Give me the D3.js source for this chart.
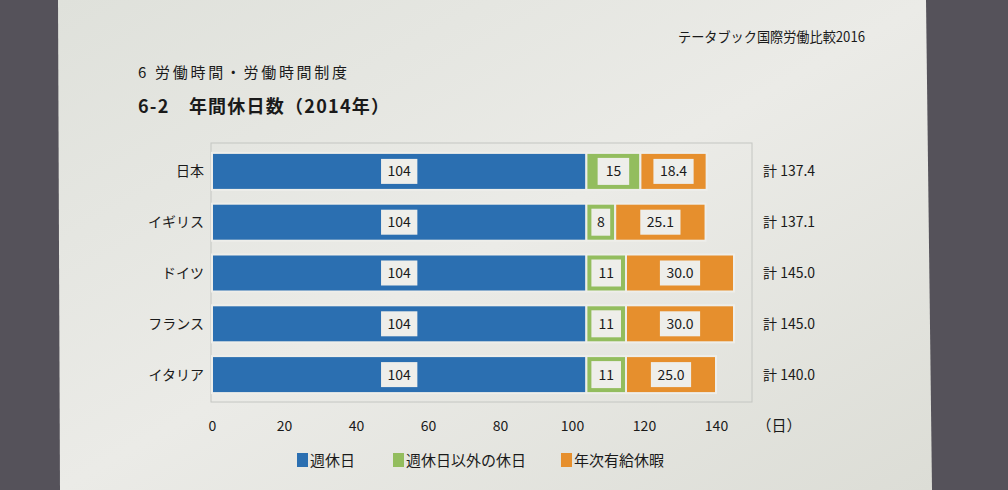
<!DOCTYPE html>
<html><head><meta charset="utf-8">
<script src="https://cdn.jsdelivr.net/npm/d3@7"></script>
<style>
html,body{margin:0;padding:0;background:#55525a;}
svg{display:block;}
text{font-family:"Noto Sans CJK JP","Noto Sans",sans-serif;fill:#1a1a1a;}
</style></head>
<body>
<svg id="c" width="1008" height="490"></svg>
<script>
const categories = ['日本','イギリス','ドイツ','フランス','イタリア'];
const weeklyHolidays = [104,104,104,104,104];
const otherHolidays = [15,8,11,11,11];
const paidLeave = [18.4,25.1,30.0,30.0,25.0];
const totals = [137.4,137.1,145.0,145.0,140.0];
const xTicks = [0,20,40,60,80,100,120,140];
const seriesNames = ['週休日','週休日以外の休日','年次有給休暇'];
const colors = ['#2b6fb1','#93bd5e','#e68f2d'];

const svg = d3.select('#c');
const defs = svg.append('defs');
const g1 = defs.append('linearGradient').attr('id','scr').attr('x1','0').attr('x2','1').attr('y1','0').attr('y2','1');
g1.append('stop').attr('offset','0').attr('stop-color','#dfe1db');
g1.append('stop').attr('offset','0.5').attr('stop-color','#ebebe7');
g1.append('stop').attr('offset','1').attr('stop-color','#dcddd6');

// screen area
svg.append('path').attr('d','M58,0 L926,0 L932,490 L60,490 Z').attr('fill','url(#scr)');

// headings
svg.append('text').attr('x',865).attr('y',42).attr('text-anchor','end').attr('font-size',14)
  .attr('textLength',187).attr('lengthAdjust','spacingAndGlyphs').text('テータブック国際労働比較2016');
svg.append('text').attr('x',138).attr('y',78).attr('font-size',15)
  .attr('textLength',209).text('6 労働時間・労働時間制度');
svg.append('text').attr('x',138).attr('y',113).attr('font-size',18).attr('font-weight','bold')
  .attr('textLength',251).text('6-2　年間休日数（2014年）');

const x = d3.scaleLinear().domain([0,150]).range([212,752]);
const y = d3.scaleBand().domain(categories).range([146,400]);
const bh = 37;

// frame
svg.append('rect').attr('x',x(0)-1).attr('y',143).attr('width',x(150)-x(0)+1).attr('height',259)
  .attr('fill','none').attr('stroke','#c4c6c2').attr('stroke-width',1);

const stacks = categories.map((c,i)=>{
  const vals=[weeklyHolidays[i],otherHolidays[i],paidLeave[i]];
  let s=0; return vals.map((v,k)=>{const o={cat:c,k,v,x0:s,x1:s+v,i}; s+=v; return o;});
}).flat();

const gb = svg.append('g');
gb.selectAll('rect.bar').data(stacks).join('rect').attr('class','bar')
  .attr('x',d=>x(d.x0)).attr('width',d=>x(d.x1)-x(d.x0))
  .attr('y',d=>y(d.cat)+y.bandwidth()/2-bh/2).attr('height',bh)
  .attr('fill',d=>colors[d.k]).attr('stroke','#eeeeea').attr('stroke-width',2);

// labels with white boxes
stacks.forEach(d=>{
  const cx=(x(d.x0)+x(d.x1))/2, cy=y(d.cat)+y.bandwidth()/2;
  const txt = d.k===2 ? d.v.toFixed(1) : String(d.v);
  const g=gb.append('g');
  const r=g.append('rect');
  const t=g.append('text').attr('x',cx).attr('y',cy).attr('text-anchor','middle').attr('dy','0.36em')
    .attr('font-size',14).text(txt);
  const w=t.node().getComputedTextLength();
  let bw=w+13, bhh=25;
  if(d.k===1){ bw=Math.max(Math.min(w+16, x(d.x1)-x(d.x0)-10), w+4); bhh=bh-10; }
  r.attr('x',cx-bw/2).attr('y',cy-bhh/2).attr('width',bw).attr('height',bhh).attr('fill','#eeeeea');
});

// totals
svg.selectAll('text.tot').data(totals).join('text').attr('class','tot')
  .attr('x',763).attr('y',(d,i)=>y(categories[i])+y.bandwidth()/2).attr('dy','0.36em')
  .attr('font-size',14).text(d=>'計 '+d.toFixed(1));

// category axis labels
svg.selectAll('text.cat').data(categories).join('text').attr('class','cat')
  .attr('x',204).attr('y',d=>y(d)+y.bandwidth()/2).attr('dy','0.36em').attr('text-anchor','end')
  .attr('font-size',14).text(d=>d);

// x axis
const ax = svg.append('g').attr('transform','translate(0,413)')
  .call(d3.axisBottom(x).tickValues(xTicks).tickSize(0).tickPadding(8));
ax.select('.domain').remove();
ax.selectAll('text').attr('font-size',14).style('font-family','"Noto Sans CJK JP",sans-serif').attr('fill','#1a1a1a');
svg.append('text').attr('x',779).attr('y',431).attr('text-anchor','middle').attr('font-size',15).text('（日）');

// legend
const lx=[297,393,561];
seriesNames.forEach((n,i)=>{
  svg.append('rect').attr('x',lx[i]).attr('y',453).attr('width',11).attr('height',14).attr('fill',colors[i]);
  svg.append('text').attr('x',lx[i]+13).attr('y',466).attr('font-size',15).text(n);
});
</script>
</body></html>
